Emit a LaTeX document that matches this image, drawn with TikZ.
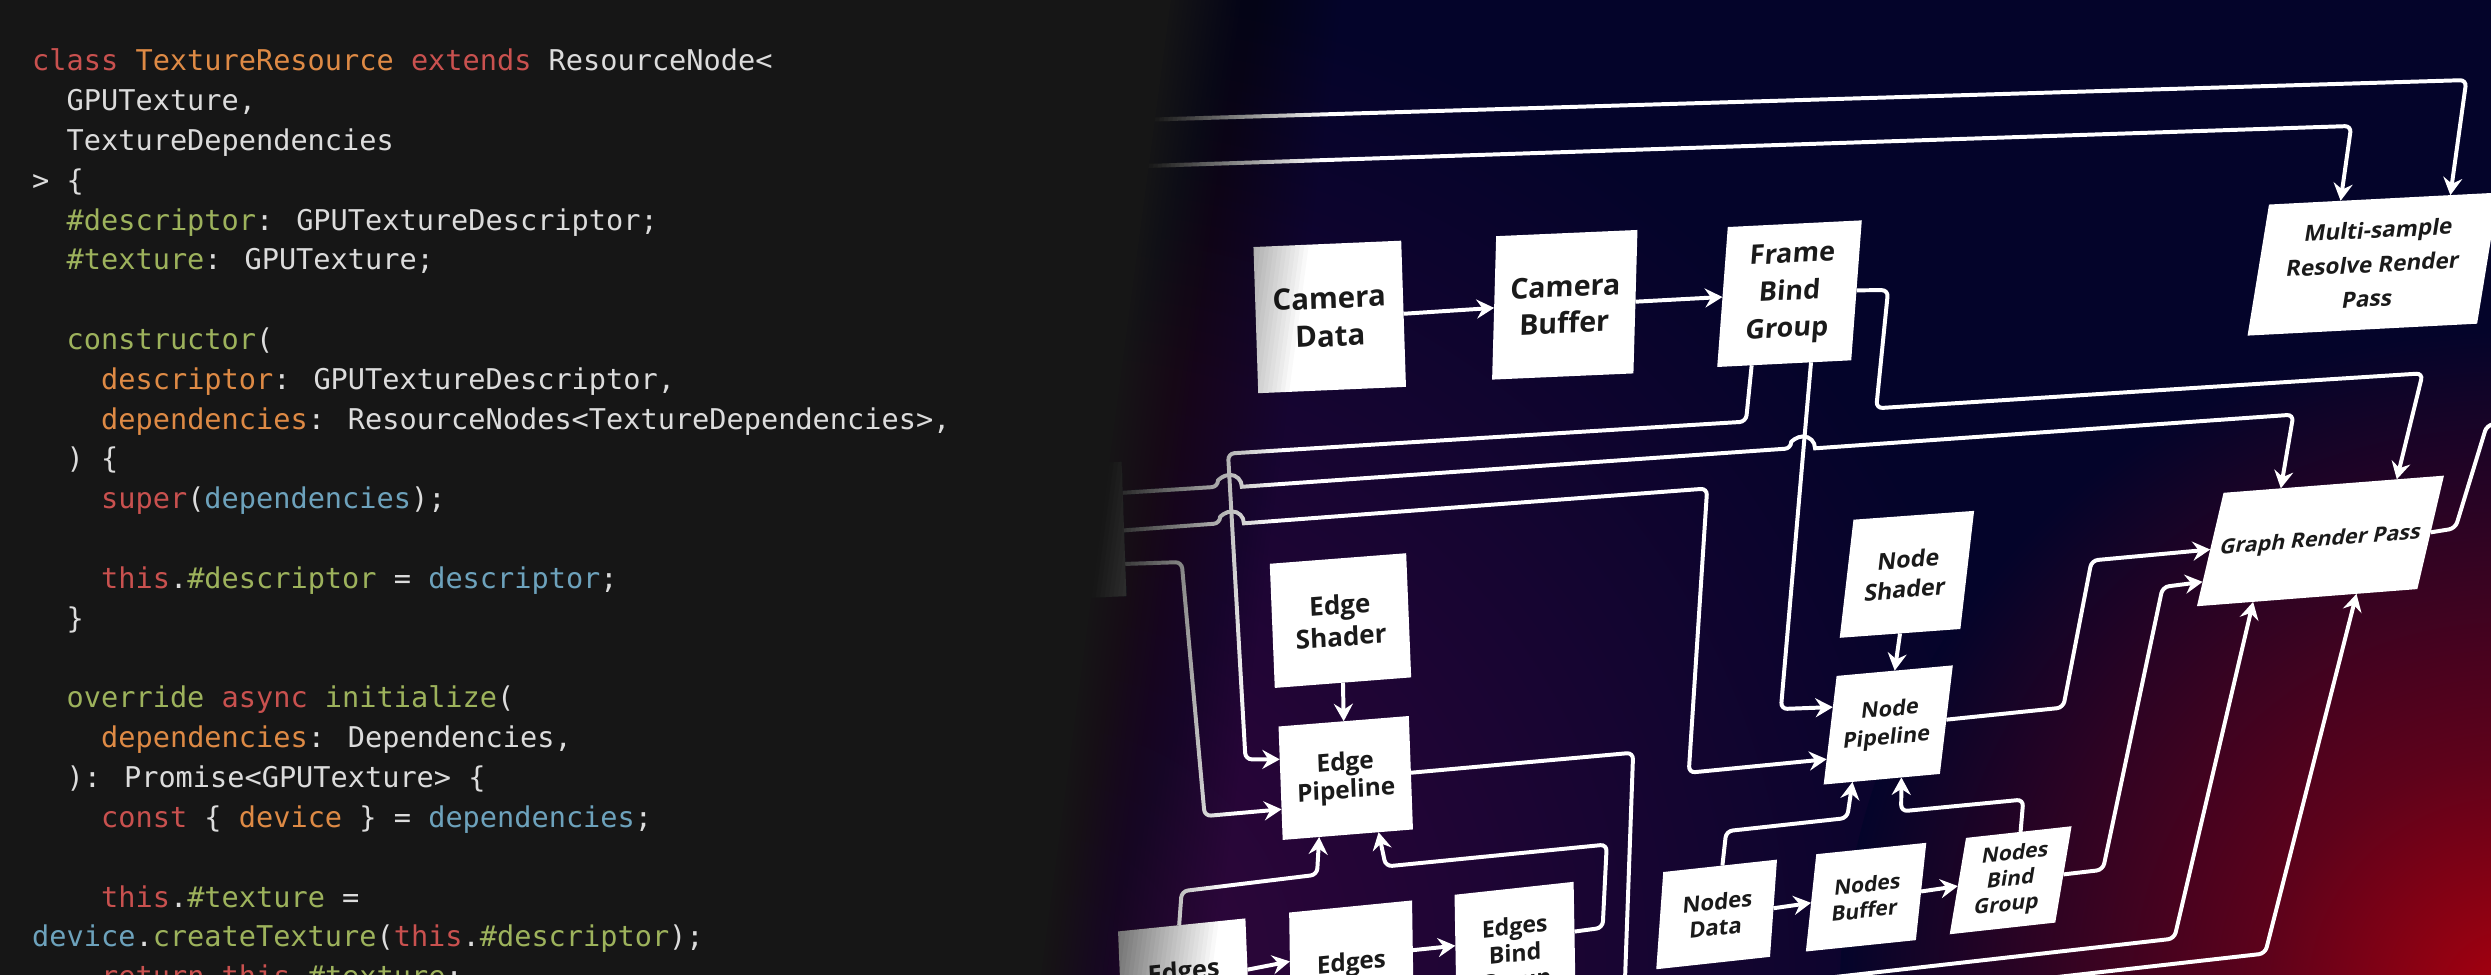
\documentclass[tikz,border=0pt]{standalone}
\usepackage{fontspec}
\usetikzlibrary{calc,arrows.meta}
\newfontfamily\codefont{DejaVu Sans Mono}
\newfontfamily\boxfont{Open Sans}
\definecolor{codebg}{HTML}{161616}
\definecolor{navybg}{HTML}{04042A}
\definecolor{pglow}{HTML}{33063C}
\definecolor{rglow}{HTML}{A8000E}
\colorlet{rglowmid}{rglow!55!navybg}
\colorlet{pglowmid}{pglow!60!navybg}
\definecolor{ckw}{HTML}{C9514F}
\definecolor{cor}{HTML}{DE8A45}
\definecolor{cgr}{HTML}{9DB25C}
\definecolor{cbl}{HTML}{6DA2BC}
\definecolor{ctx}{HTML}{DCDCDC}
\definecolor{boxtext}{HTML}{1A1A1A}
\definecolor{hiddenbox}{HTML}{9A9A9A}
\pgfdeclareradialshading{glowP}{\pgfpointorigin}{color(0bp)=(pglow); color(10bp)=(pglowmid); color(25bp)=(navybg); color(50bp)=(navybg)}
\pgfdeclareradialshading{glowR}{\pgfpointorigin}{color(0bp)=(rglow); color(9bp)=(rglowmid); color(25bp)=(navybg); color(50bp)=(navybg)}
\newcommand\tKw[1]{{\color{ckw}#1}}
\newcommand\tOr[1]{{\color{cor}#1}}
\newcommand\tGr[1]{{\color{cgr}#1}}
\newcommand\tBl[1]{{\color{cbl}#1}}
\def\qboxparse#1,#2,#3,#4,#5,#6,#7,#8\relax{%
  \pgfmathsetmacro\qRx{((#3)-(#1)+(#5)-(#7))/2}%
  \pgfmathsetmacro\qRy{((#4)-(#2)+(#6)-(#8))/2}%
  \pgfmathsetmacro\qUx{((#1)-(#7)+(#3)-(#5))/2}%
  \pgfmathsetmacro\qUy{((#2)-(#8)+(#4)-(#6))/2}%
  \pgfmathsetmacro\qW{veclen(\qRx,\qRy)}%
  \pgfmathsetmacro\qH{veclen(\qUx,\qUy)}%
  \pgfmathsetmacro\qa{(\qRx)/\qW}%
  \pgfmathsetmacro\qb{-(\qRy)/\qW}%
  \pgfmathsetmacro\qc{(\qUx)/\qH}%
  \pgfmathsetmacro\qd{-(\qUy)/\qH}%
  \pgfmathsetmacro\qcx{((#1)+(#3)+(#5)+(#7))/4}%
  \pgfmathsetmacro\qcy{((#2)+(#4)+(#6)+(#8))/4}%
}
\newcommand\qbox[4]{%
  \qboxparse#3\relax
  \node[box,#1,minimum width=\qW pt,minimum height=\qH pt,cm={\qa,\qb,\qc,\qd,(\qcx,\qcy)}] (#2) {#4};%
}
\tikzset{
  fs/.style 2 args={font=\boxfont\bfseries\fontsize{#1}{#2}\selectfont},
  box/.style={fill=white, text=boxtext, inner sep=0pt, outer sep=0pt, align=center, transform shape},
  wire/.style={draw=white, line width=2.5pt, rounded corners=4pt},
  arr/.style={wire, -{Stealth[length=11pt,width=12pt,inset=3.8pt]}},
  code/.style={inner sep=0pt, anchor=base west, text=ctx, font=\codefont\fontsize{18}{22}\selectfont},
}
\begin{document}
\begin{tikzpicture}[x=1pt,y=-1pt]
\useasboundingbox (0,0) rectangle (1568,613.1);
% background
\fill[navybg] (-5,-5) rectangle (1575,620);
\shade[shading=glowP] (661,613) circle (620pt);
\shade[shading=glowR] (1578,628) circle (420pt);

% free ends
\coordinate (aIn) at (640,77.8);
\coordinate (bIn) at (640,107.2);
\coordinate (zIn) at (1180,628);
\coordinate (xOut) at (1620,261);

% boxes
\qbox{fs={10}{12},fill=hiddenbox}{hb}{600,295,706,291,709,375,603,380}{}
\qbox{fs={18.5}{24}}{cd}{788,155,883,152,884,243,793,248}{Camera\\Data}
\qbox{fs={18}{23}}{cb}{941,148.6,1031.5,144.8,1027.4,235,940,239}{Camera\\Buffer}
\qbox{fs={17}{23.5}}{fbg}{1086.7,142.7,1172.8,138.9,1164.4,226.6,1081.8,231.2}{Frame\\Bind\\Group}
\qbox{fs={14.2}{22}}{msr}{1430,128,1571,122,1561,203,1413,212}{Multi-sample\\Resolve Render\\Pass}
\qbox{fs={13.5}{18}}{grp}{1399,310,1539,299.6,1521,370.6,1383.5,381.8}{Graph Render Pass}
\qbox{fs={14.7}{19}}{ns}{1166.3,327,1243,321.7,1233.6,395.8,1158.4,401.6}{Node\\Shader}
\qbox{fs={13.7}{18}}{np}{1155.6,425.3,1229.7,419,1220.6,487,1148.4,494}{Node\\Pipeline}
\qbox{fs={14}{16.5}}{nd}{1046.5,549,1119,541,1113.7,602.4,1043,610}{Nodes\\Data}
\qbox{fs={13.3}{16.5}}{nb}{1143,537.6,1212.8,530.6,1205.7,591.7,1137,599}{Nodes\\Buffer}
\qbox{fs={13.3}{16.4}}{nbg}{1236.8,527.5,1304.7,520,1293,580.8,1228,588}{Nodes\\Bind\\Group}
\qbox{fs={16.4}{20}}{es}{798.4,354.5,886,348.6,887.4,426,803.3,433.4}{Edge\\Shader}
\qbox{fs={15.4}{17.5}}{ep}{804.2,457,887.4,451,888.8,521.8,808,529}{Edge\\Pipeline}
\qbox{fs={16}{19}}{ed}{703.7,586.4,784,578,787,655,707,663}{Edges\\Data}
\qbox{fs={15.3}{18.5}}{eb}{811.3,574.7,889,566.5,890,655,813,662}{Edges\\Buffer}
\qbox{fs={14.6}{17}}{ebg}{915.6,563.3,990.5,555,992,640,917,648}{Edges\\Bind\\Group}

% connectors
\draw[arr] (aIn) -- (1552.5,50.4) -- ($(msr.north west)!0.79!(msr.north east)$);
\draw[arr] (bIn) -- (1480,79.3) -- ($(msr.north west)!0.312!(msr.north east)$);
\draw[arr] (cd.east) -- (cb.west);
\draw[arr] (cb.east) -- (fbg.west);
\draw[arr] (fbg.east) -- (1188.5,182.6) -- (1181,257) -- (1525,235) -- ($(grp.north west)!0.786!(grp.north east)$);
\draw[arr] ($(fbg.south west)!0.257!(fbg.south east)$) -- (1099,265.4) -- (773,285.5) -- (784,478) -- ($(ep.north west)!0.29!(ep.south west)$);
\draw[arr] ($(hb.north east)!0.23!(hb.south east)$) -- (766.7,306.4) [sharp corners] arc[start angle=180,end angle=0,radius=7.5pt] [rounded corners=4pt] -- (1127.5,282.2) [sharp corners] arc[start angle=180,end angle=0,radius=7.5pt] [rounded corners=4pt] -- (1443.6,261) -- ($(grp.north west)!0.26!(grp.north east)$);
\draw[arr] ($(hb.north east)!0.51!(hb.south east)$) -- (768,329.4) [sharp corners] arc[start angle=180,end angle=0,radius=7.5pt] [rounded corners=4pt] -- (1074.6,307.5) -- (1063,486.4) -- ($(np.north west)!0.767!(np.south west)$);
\draw[arr] ($(fbg.south west)!0.7!(fbg.south east)$) -- (1121,446.3) -- ($(np.north west)!0.287!(np.south west)$);
\draw[arr] ($(hb.north east)!0.76!(hb.south east)$) -- (743.8,353.8) -- (758.3,513.7) -- ($(ep.north west)!0.73!(ep.south west)$);
\draw[arr] (es.south) -- (ep.north);
\draw[arr] (ep.east) -- (1028,473.8) -- (1022.4,630) -- (1368.6,590.8) -- ($(grp.south west)!0.255!(grp.south east)$);
\draw[arr] (zIn) -- (1425.8,600.2) -- ($(grp.south west)!0.724!(grp.south east)$);
\draw[arr] ($(ebg.north east)!0.369!(ebg.south east)$) -- (1008.8,584) -- (1011.4,531.6) -- (872.3,545.4) -- ($(ep.south west)!0.736!(ep.south east)$);
\draw[arr] ($(ed.north east)!0.42!(ed.south east)$) -- ($(eb.north west)!0.35!(eb.south west)$);
\draw[arr] ($(eb.north east)!0.356!(eb.south east)$) -- ($(ebg.north west)!0.378!(ebg.south west)$);
\draw[arr] ($(ed.north west)!0.48!(ed.north east)$) -- (743.8,561) -- (829,550.6) -- ($(ep.south west)!0.28!(ep.south east)$);
\draw[arr] (nd.east) -- (nb.west);
\draw[arr] (nb.east) -- (nbg.west);
\draw[arr] ($(nd.north west)!0.52!(nd.north east)$) -- (1086.6,523.2) -- (1162.7,514.9) -- ($(np.south west)!0.248!(np.south east)$);
\draw[arr] ($(nbg.north west)!0.517!(nbg.north east)$) -- (1273.6,503.3) -- (1196.7,510.7) -- ($(np.south west)!0.669!(np.south east)$);
\draw[arr] (ns.south) -- (np.north);
\draw[arr] (np.east) -- (1298.7,445.4) -- (1316.6,352.8) -- (grp.west);
\draw[arr] (nbg.east) -- (1323.7,547.5) -- (1361.3,369.5) -- ($(grp.north west)!0.785!(grp.south west)$);
\draw[wire] (grp.east) -- (1545.5,332.6) -- (1565.4,267.5) -- (xOut);

% fade into the code panel
\foreach \j in {1,...,40}{
  \pgfmathsetmacro\op{1/(41-\j)}
  \pgfmathsetmacro\dx{(\j-1)*2.75}
  \fill[codebg, opacity=\op] (-5,-5) -- ({845-\dx},-5) -- ({762-\dx},618) -- (-5,618) -- cycle;
}

% code
\node[code] (c1) at (20.1,44.5) {\tKw{class} \tOr{TextureResource} \tKw{extends} ResourceNode<};
\node[code] (c2) at (41.8,69.57) {GPUTexture,};
\node[code] (c3) at (41.8,94.64) {TextureDependencies};
\node[code] (c4) at (20.1,119.71) {> \{};
\node[code] (c5) at (41.8,144.78) {\tGr{\#descriptor}: GPUTextureDescriptor;};
\node[code] (c6) at (41.8,169.85) {\tGr{\#texture}: GPUTexture;};
\node[code] (c8) at (41.8,219.99) {\tGr{constructor}(};
\node[code] (c9) at (63.5,245.06) {\tOr{descriptor}: GPUTextureDescriptor,};
\node[code] (c10) at (63.5,270.13) {\tOr{dependencies}: ResourceNodes<TextureDependencies>,};
\node[code] (c11) at (41.8,295.2) {) \{};
\node[code] (c12) at (63.5,320.27) {\tKw{super}(\tBl{dependencies});};
\node[code] (c14) at (63.5,370.41) {\tKw{this}.\tGr{\#descriptor} = \tBl{descriptor};};
\node[code] (c15) at (41.8,395.48) {\}};
\node[code] (c17) at (41.8,445.62) {\tGr{override} \tKw{async} \tGr{initialize}(};
\node[code] (c18) at (63.5,470.69) {\tOr{dependencies}: Dependencies,};
\node[code] (c19) at (41.8,495.76) {): Promise<GPUTexture> \{};
\node[code] (c20) at (63.5,520.83) {\tKw{const} \{ \tOr{device} \} = \tBl{dependencies};};
\node[code] (c22) at (63.5,570.97) {\tKw{this}.\tGr{\#texture} =};
\node[code] (c23) at (20.1,596.04) {\tBl{device}.\tGr{createTexture}(\tKw{this}.\tGr{\#descriptor});};
\node[code] (c24) at (63.5,621.11) {\tKw{return} \tKw{this}.\tGr{\#texture};};
\end{tikzpicture}
\end{document}
